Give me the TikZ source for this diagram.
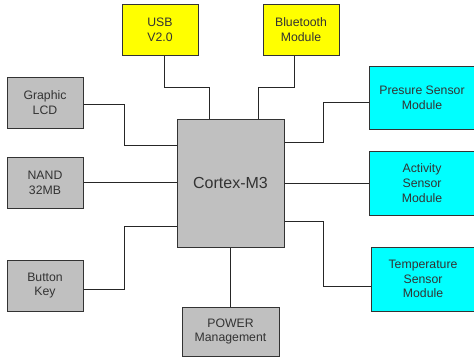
\documentclass[tikz,border=0pt]{standalone}
\usepackage{fontspec}
\setmainfont{Liberation Sans}
\usetikzlibrary{calc,positioning}
\definecolor{boxgray}{RGB}{192,192,192}
\definecolor{boxyellow}{RGB}{255,255,0}
\definecolor{boxcyan}{RGB}{0,255,255}
\begin{document}
\begin{tikzpicture}[x=0.75pt,y=-0.75pt,
  blk/.style={rectangle,draw=black!80,line width=0.75pt,text=black!80,align=center,
    inner sep=0pt,font=\fontsize{9.2}{11}\selectfont},
  grayblk/.style={blk,fill=boxgray,minimum width=57pt,minimum height=38.25pt},
  usbblk/.style={blk,fill=boxyellow,minimum width=57pt,minimum height=38.25pt},
  senblk/.style={blk,fill=boxcyan,minimum width=79.5pt,minimum height=48pt},
  wire/.style={draw=black!85,line width=0.75pt}]
                      \useasboundingbox (0,0) rectangle (474,358);
                      \fill[white](0,0)rectangle(474,358);
                      \node[blk,fill=boxgray,minimum width=80.25pt,minimum height=96pt,
                        font=\fontsize{12}{14}\selectfont](cpu)at(230.5,183){Cortex-M3};
                      \node[usbblk](usb)at(160,29.5){USB\\V2.0};
                      \node[usbblk](bt)at(301,29.5){Bluetooth\\Module};
                      \node[grayblk](lcd)at(45,102.5){Graphic\\LCD};
                      \node[grayblk](nand)at(45,182.5){NAND\\32MB};
                      \node[grayblk](key)at(45,285.5){Button\\Key};
                      \node[grayblk,minimum width=72.75pt,minimum height=36.75pt](pwr)at(230.5,331.5){POWER\\Management};
                      \node[senblk,minimum height=47.25pt](pres)at(422,97.5){Presure Sensor\\Module};
                      \node[senblk](act)at(422,183){Activity\\Sensor\\Module};
                      \node[senblk,minimum width=78pt](temp)at(423,279){Temperature\\Sensor\\Module};
                      \draw[wire]($(usb.south)+(4,0)$)--++(0,32)-|($(cpu.north)+(-21.5,0)$);
                      \draw[wire]($(bt.south)+(-7,0)$)--++(0,32)-|($(cpu.north)+(27.5,0)$);
                      \draw[wire]($(lcd.east)+(0,1.5)$)--++(41,0)|-($(cpu.west)+(0,-38)$);
                      \draw[wire](nand.east)--(nand.east-|cpu.west);
                      \draw[wire]($(key.east)+(0,3.5)$)--++(41,0)|-($(cpu.west)+(0,43)$);
                      \draw[wire](cpu.south)--(pwr.north);
                      \draw[wire]($(pres.west)+(0,4.5)$)--++(-45,0)|-($(cpu.east)+(0,-41)$);
                      \draw[wire](act.west)--(act.west-|cpu.east);
                      \draw[wire]($(temp.west)+(0,7)$)--++(-47,0)|-($(cpu.east)+(0,38)$);
                  \end{tikzpicture}
\end{document}
